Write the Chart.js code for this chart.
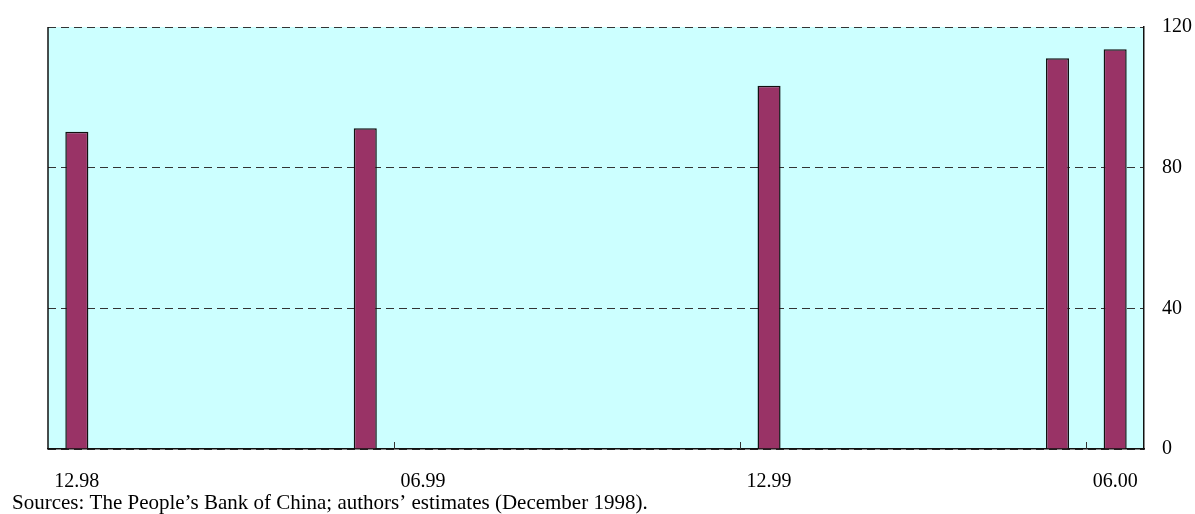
<!DOCTYPE html>
<html>
<head>
<meta charset="utf-8">
<script src="https://cdn.jsdelivr.net/npm/chart.js@4.4.1/dist/chart.umd.min.js"></script>
<style>
  html, body { margin: 0; padding: 0; background: #fff; }
  #wrap { width: 1195px; height: 514px; }
</style>
</head>
<body>
<div id="wrap"><canvas id="chart" width="1195" height="514"></canvas></div>
<script>
// monthly categories, 12.98 .. 06.00
const months = [
  "12.98", "01.99", "02.99", "03.99", "04.99", "05.99", "06.99",
  "07.99", "08.99", "09.99", "10.99", "11.99", "12.99",
  "01.00", "02.00", "03.00", "04.00", "05.00", "06.00"
];
const values = [
  90.2, null, null, null, null, 91.2, null,
  null, null, null, null, null, 103.3,
  null, null, null, null, 111.1, 113.7
];
const shownLabels = ["12.98", "06.99", "12.99", "06.00"];
const markedMonths = ["06.99", "12.99", "06.00"];
const sourceNote = "Sources: The People\u2019s Bank of China; authors\u2019 estimates (December 1998).";

const serif = '"Liberation Serif", "Times New Roman", serif';

const plotDecor = {
  id: "plotDecor",
  beforeDraw(chart) {
    const { ctx, chartArea } = chart;
    ctx.save();
    ctx.fillStyle = "#ccffff";
    ctx.fillRect(chartArea.left, chartArea.top, chartArea.right - chartArea.left, chartArea.bottom - chartArea.top);
    ctx.restore();
  },
  afterDraw(chart) {
    const { ctx, chartArea } = chart;
    const x = chart.scales.x;
    const half = (x.getPixelForValue(1) - x.getPixelForValue(0)) / 2;
    ctx.save();
    ctx.strokeStyle = "#111";
    ctx.lineWidth = 1.5;
    ctx.beginPath();
    ctx.moveTo(chartArea.left, chartArea.top);
    ctx.lineTo(chartArea.left, chartArea.bottom);
    ctx.stroke();

    // small inward tick marks at the start of each labelled half-year
    ctx.lineWidth = 1;
    ctx.strokeStyle = "#333";
    markedMonths.forEach((m) => {
      const px = Math.round(x.getPixelForValue(months.indexOf(m)) - half) + 0.5;
      ctx.beginPath();
      ctx.moveTo(px, chartArea.bottom);
      ctx.lineTo(px, chartArea.bottom - 7);
      ctx.stroke();
    });

    ctx.fillStyle = "#000";
    ctx.font = "21px " + serif;
    ctx.textBaseline = "middle";
    ctx.textAlign = "left";
    ctx.fillText(sourceNote, 12, 503);
    ctx.restore();
  }
};

new Chart(document.getElementById("chart"), {
  type: "bar",
  data: {
    labels: months,
    datasets: [{
      data: values,
      backgroundColor: "#993366",
      borderColor: "#111",
      borderWidth: 1.5,
      barPercentage: 0.4,
      categoryPercentage: 1.0
    }]
  },
  options: {
    responsive: false,
    animation: false,
    layout: { padding: { left: 48, top: 27, right: 0, bottom: 0 } },
    plugins: {
      legend: { display: false },
      tooltip: { enabled: false }
    },
    scales: {
      x: {
        grid: { display: false, drawTicks: false },
        border: { display: true, color: "#111", width: 1.5 },
        afterFit(scale) {
          scale.height = 65;
          scale.paddingLeft = 0;
          scale.paddingRight = 0;
        },
        ticks: {
          autoSkip: false,
          maxRotation: 0,
          padding: 21,
          color: "#000",
          font: { family: serif, size: 20 },
          callback: (v, i) => (shownLabels.includes(months[i]) ? months[i] : "")
        }
      },
      y: {
        position: "right",
        min: 0,
        max: 120,
        afterFit(scale) {
          scale.width = 51;
          scale.paddingTop = 0;
          scale.paddingBottom = 0;
        },
        grid: { color: "#333", lineWidth: 1, drawTicks: false },
        border: { display: true, color: "#111", width: 1.5, dash: [8, 5] },
        ticks: {
          stepSize: 40,
          padding: 18,
          color: "#000",
          font: { family: serif, size: 20 }
        }
      }
    }
  },
  plugins: [plotDecor]
});
</script>
</body>
</html>
